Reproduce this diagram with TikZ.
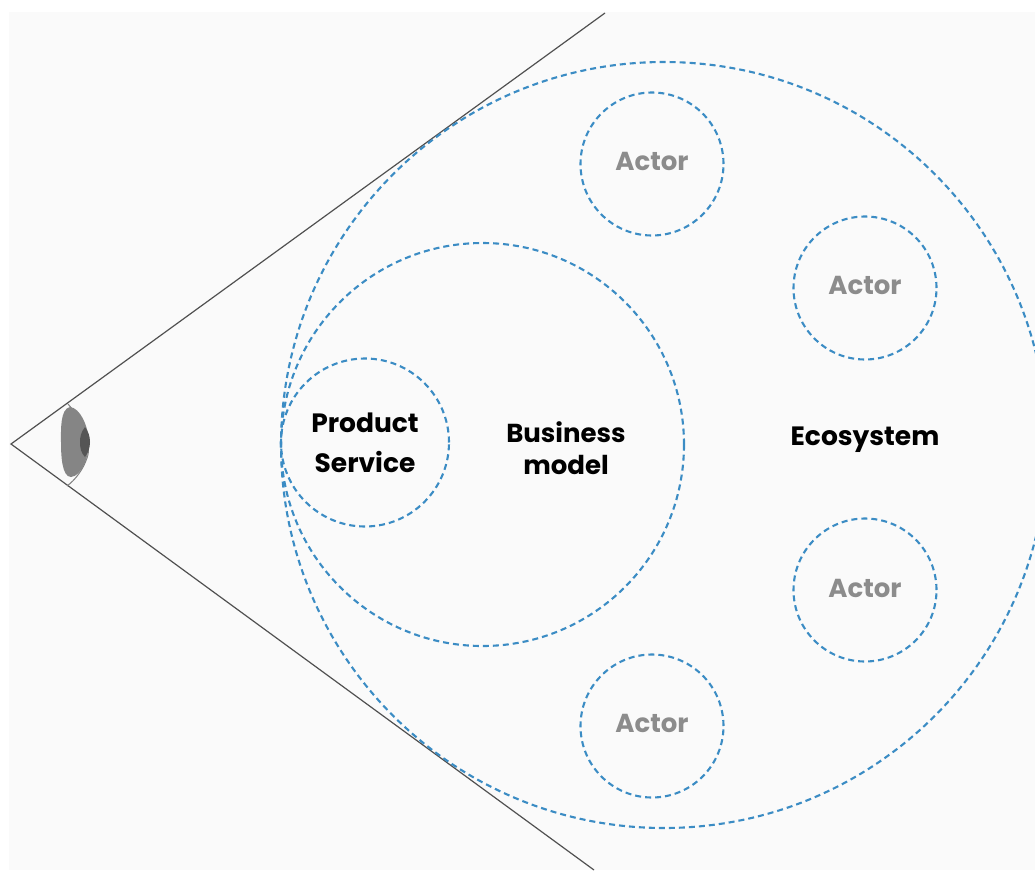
\documentclass[tikz,border=0pt]{standalone}
\usepackage{fontspec}
\setmainfont{Poppins}
\definecolor{panel}{HTML}{FAFAFA}
\definecolor{dashblue}{HTML}{3B8CC4}
\definecolor{actorgray}{HTML}{8C8C8C}
\definecolor{eyegray}{HTML}{858585}
\definecolor{pupil}{HTML}{555555}
\definecolor{sight}{HTML}{505050}
\tikzset{
  ring/.style={circle,draw=dashblue,line width=2.1pt,dash pattern=on 6pt off 4pt,inner sep=0pt},
  mainlabel/.style={font=\fontsize{26.5}{40}\selectfont\bfseries,text=black,align=center,inner sep=0pt},
  bizlabel/.style={font=\fontsize{26}{32}\selectfont\bfseries,text=black,align=center,inner sep=0pt},
  actorlabel/.style={font=\fontsize{26}{30}\selectfont\bfseries,text=actorgray,inner sep=0pt},
  sightline/.style={draw=sight,line width=1.2pt}
}
\begin{document}
\begin{tikzpicture}[x=1pt,y=-1pt]
\useasboundingbox (0,0) rectangle (1035,870);
\fill[panel] (9,12) rectangle (1035,870);
\begin{scope}
\clip (0,0) rectangle (1035,870);
\coordinate (apex) at (11,444);
\coordinate (upper) at (605,13);
\coordinate (lower) at (594,870);
\draw[sightline] (upper) -- (apex) -- (lower);
% eye
\draw[draw=gray,line width=1pt] (68,404) .. controls (84,422) and (92,445) .. (87,458) .. controls (83,470) and (75,480) .. (67,486);
\fill[eyegray] (70,407) .. controls (60,409) and (61,430) .. (61,442) .. controls (61,456) and (62,477) .. (71,477) .. controls (82,476) and (89,456) .. (89,442) .. controls (88,425) and (80,408) .. (70,407) -- cycle;
\fill[pupil] (85,427) .. controls (81,432) and (80,437) .. (80,442) .. controls (80,448) and (81,453) .. (85,457) .. controls (88,453) and (90,448) .. (90,442) .. controls (90,436) and (88,431) .. (85,427) -- cycle;
\node[ring,minimum size=766pt] (eco) at (664,445) {};
\node[ring,minimum size=403pt] (biz) at (482.5,444.5) {};
\node[ring,minimum size=168pt] (prod) at (365,442.5) {};
\node[ring,minimum size=143pt] (a1) at (652,164) {};
\node[ring,minimum size=143pt] (a2) at (865,288) {};
\node[ring,minimum size=143pt] (a3) at (865,590) {};
\node[ring,minimum size=143pt] (a4) at (652,726) {};
\end{scope}
\node[actorlabel] (t1) at (652,161) {Actor};
\node[actorlabel] (t2) at (865,285) {Actor};
\node[actorlabel] (t3) at (865,588) {Actor};
\node[actorlabel] (t4) at (652,723) {Actor};
\node[mainlabel] (tp) at (365,443) {Product\\Service};
\node[bizlabel] (tb) at (566,448) {Business\\model};
\node[mainlabel] (te) at (865,440) {Ecosystem};
\end{tikzpicture}
\end{document}
